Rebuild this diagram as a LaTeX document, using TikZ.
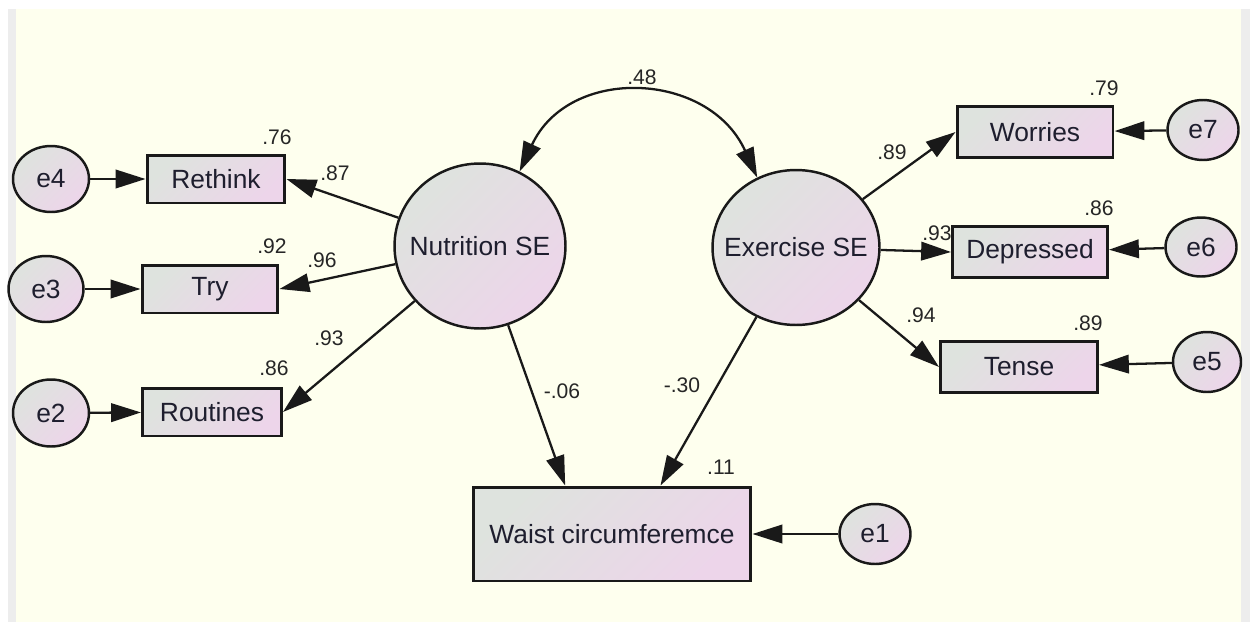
\documentclass[tikz,border=0pt]{standalone}
\usepackage{fontspec}
\setmainfont{Liberation Sans}
\usetikzlibrary{arrows.meta,shapes.geometric}

\definecolor{paper}{HTML}{FEFFEE}
\definecolor{frame}{HTML}{EDEDED}
\definecolor{gradA}{HTML}{DEE3DE}
\definecolor{gradB}{HTML}{EDD5EA}
\definecolor{ink}{HTML}{1E1E2E}

% zero-width label so the ellipse keeps its given size
\newcommand{\semlabel}[1]{\makebox[0pt]{#1}}

\begin{document}
\begin{tikzpicture}[x=0.02cm, y=-0.02cm,
  fillgrad/.style={top color=gradA, bottom color=gradB, shading angle=45},
  obs/.style={rectangle, draw=black!90, line width=1.7pt, fillgrad,
    inner sep=0pt, font=\fontsize{15}{18}\selectfont, text=ink},
  lat/.style={ellipse, draw=black!90, line width=1.4pt, fillgrad,
    inner sep=0pt, font=\fontsize{15}{18}\selectfont, text=ink},
  coef/.style={font=\fontsize{12}{14}\selectfont, text=black!85, inner sep=0pt},
  pth/.style={-{Triangle[length=17pt,width=10.5pt]}, line width=1.3pt, draw=black!90},
  cov/.style={{Triangle[length=17pt,width=10.5pt]}-{Triangle[length=17pt,width=10.5pt]},
    line width=1.3pt, draw=black!90},
]
% canvas
\useasboundingbox (0,0) rectangle (1250,622);
\fill[white] (0,0) rectangle (1250,622);
\fill[frame] (8,9) rectangle (16,622);
\fill[paper] (16,9) rectangle (1241,622);
\fill[frame] (1241,9) rectangle (1250,622);

% latent factors
\node[lat, minimum width=3.42cm, minimum height=3.30cm] (nut) at (480,246) {\semlabel{Nutrition SE}};
\node[lat, minimum width=3.34cm, minimum height=3.10cm] (ex) at (796,247.5) {\semlabel{Exercise SE}};

% nutrition indicators
\node[obs, minimum width=2.76cm, minimum height=0.96cm] (rethink) at (216,179) {Rethink};
\node[obs, minimum width=2.72cm, minimum height=0.96cm] (try) at (210,289) {Try};
\node[obs, minimum width=2.78cm, minimum height=0.96cm] (routines) at (212,412) {Routines};

% exercise indicators
\node[obs, minimum width=3.12cm, minimum height=1.02cm] (worries) at (1035,132) {Worries};
\node[obs, minimum width=3.10cm, minimum height=1.02cm] (depressed) at (1030,252) {Depressed};
\node[obs, minimum width=3.14cm, minimum height=1.02cm] (tense) at (1019,367) {Tense};

% outcome
\node[obs, minimum width=5.56cm, minimum height=1.88cm] (waist) at (612,534) {Waist circumferemce};

% error terms
\node[lat, minimum width=1.52cm, minimum height=1.32cm] (e4) at (51,179) {\semlabel{e4}};
\node[lat, minimum width=1.50cm, minimum height=1.32cm] (e3) at (46,289) {\semlabel{e3}};
\node[lat, minimum width=1.52cm, minimum height=1.34cm] (e2) at (51,413) {\semlabel{e2}};
\node[lat, minimum width=1.42cm, minimum height=1.20cm] (e7) at (1203,130) {\semlabel{e7}};
\node[lat, minimum width=1.42cm, minimum height=1.18cm] (e6) at (1201,247) {\semlabel{e6}};
\node[lat, minimum width=1.36cm, minimum height=1.20cm] (e5) at (1207,362) {\semlabel{e5}};
\node[lat, minimum width=1.42cm, minimum height=1.20cm] (e1) at (875,534) {\semlabel{e1}};

% paths
\draw[pth] (e4) -- (rethink);
\draw[pth] (e3) -- (try);
\draw[pth] (e2) -- (routines);
\draw[pth] (nut) -- (rethink.east);
\draw[pth] (nut) -- (try.east);
\draw[pth] (nut) -- (routines.east);
\draw[pth] (ex) -- (worries.west);
\draw[pth] (ex) -- (depressed.west);
\draw[pth] (ex) -- (tense.west);
\draw[pth] (e7) -- (worries);
\draw[pth] (e6) -- (depressed);
\draw[pth] (e5) -- (tense);
\draw[pth] (nut) -- (waist.134);
\draw[pth] (ex) -- (waist.45);
\draw[pth] (e1) -- (waist);

% factor covariance
\draw[cov] (nut.62) .. controls (569,65) and (709,71) .. (ex.119);

% estimates
\node[coef] (c48) at (642,77) {.48};
\node[coef] (r76) at (277,137) {.76};
\node[coef] (l87) at (335,173) {.87};
\node[coef] (r92) at (272,246) {.92};
\node[coef] (l96) at (322,260) {.96};
\node[coef] (r86) at (274,368) {.86};
\node[coef] (l93) at (329,338) {.93};
\node[coef] (r79) at (1104,88) {.79};
\node[coef] (l89) at (892,152) {.89};
\node[coef] (r86b) at (1099,208) {.86};
\node[coef] (l93b) at (937,233) {.93};
\node[coef] (l94) at (921,315) {.94};
\node[coef] (r89) at (1088,323) {.89};
\node[coef] (lnw) at (562,391) {-.06};
\node[coef] (lew) at (682,385) {-.30};
\node[coef] (r11) at (721,467) {.11};
\end{tikzpicture}
\end{document}
